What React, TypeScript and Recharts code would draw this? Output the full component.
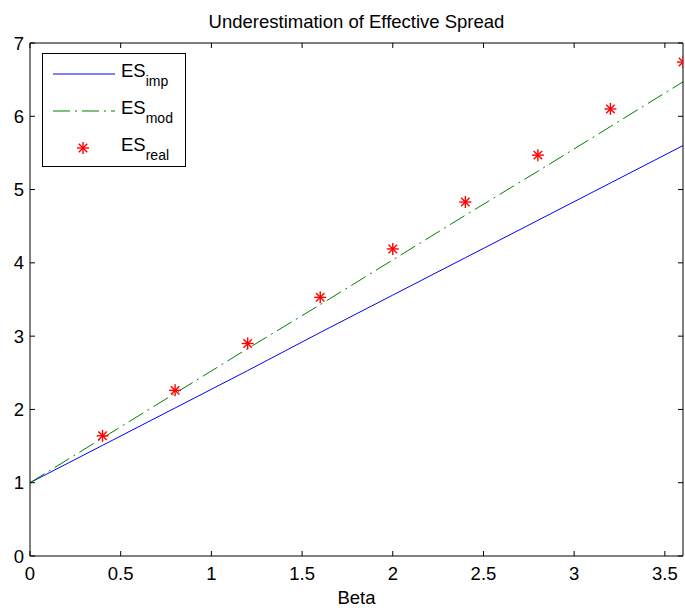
import React from 'react';
import { ComposedChart, Line, Scatter, XAxis, YAxis, Legend, Label } from 'recharts';

const betas = [0, 0.4, 0.8, 1.2, 1.6, 2.0, 2.4, 2.8, 3.2, 3.6];
const esImp = [1.0, 1.51, 2.02, 2.53, 3.05, 3.56, 4.07, 4.58, 5.09, 5.6];
const esMod = [1.0, 1.61, 2.22, 2.83, 3.43, 4.04, 4.65, 5.25, 5.86, 6.47];
const esReal: (number | null)[] = [null, 1.64, 2.26, 2.9, 3.53, 4.19, 4.83, 5.47, 6.1, 6.74];

const xTicks = [0, 0.5, 1, 1.5, 2, 2.5, 3, 3.5];
const yTicks = [0, 1, 2, 3, 4, 5, 6, 7];

const data = betas.map((b, i) => ({ beta: b, imp: esImp[i], mod: esMod[i], real: esReal[i] }));

const FONT = "'Liberation Sans', Arial, sans-serif";
const FS = 18.5;
const TICK = 5;

const BottomTick = (props: any) => {
  const { x, y, payload } = props;
  return (
    <g>
      <line x1={x} y1={y} x2={x} y2={y - TICK} stroke="#000" />
      <text x={x} y={y + 24} textAnchor="middle" fontSize={FS} fill="#000" fontFamily={FONT}>
        {String(payload.value)}
      </text>
    </g>
  );
};
const TopTick = (props: any) => {
  const { x, y } = props;
  return <line x1={x} y1={y} x2={x} y2={y + TICK} stroke="#000" />;
};
const LeftTick = (props: any) => {
  const { x, y, payload } = props;
  return (
    <g>
      <line x1={x} y1={y} x2={x + TICK} y2={y} stroke="#000" />
      <text x={x - 6} y={y + 6.6} textAnchor="end" fontSize={FS} fill="#000" fontFamily={FONT}>
        {String(payload.value)}
      </text>
    </g>
  );
};
const RightTick = (props: any) => {
  const { x, y } = props;
  return <line x1={x} y1={y} x2={x - TICK} y2={y} stroke="#000" />;
};

const Star = (props: any) => {
  const { cx, cy, payload } = props;
  if (payload == null || payload.real == null || !isFinite(cx) || !isFinite(cy)) return null;
  const r = 6;
  const d = r * 0.707;
  return (
    <g stroke="#ff0000" strokeWidth={1.4}>
      <line x1={cx - r} y1={cy} x2={cx + r} y2={cy} />
      <line x1={cx} y1={cy - r} x2={cx} y2={cy + r} />
      <line x1={cx - d} y1={cy - d} x2={cx + d} y2={cy + d} />
      <line x1={cx - d} y1={cy + d} x2={cx + d} y2={cy - d} />
    </g>
  );
};

const legendItems = [
  { key: 'imp', sub: 'imp', kind: 'line' },
  { key: 'mod', sub: 'mod', kind: 'dash' },
  { key: 'real', sub: 'real', kind: 'star' },
];

const LegendBox = () => (
  <svg width={145} height={115} style={{ display: 'block' }}>
    <rect x={0.5} y={0.5} width={143} height={113} fill="#fff" stroke="#000" />
    {legendItems.map((it, i) => {
      const cy = 21 + i * 37;
      return (
        <g key={it.key}>
          {it.kind === 'line' && <line x1={11} y1={cy} x2={73} y2={cy} stroke="#0000ff" strokeWidth={1.2} />}
          {it.kind === 'dash' && (
            <line x1={11} y1={cy} x2={73} y2={cy} stroke="#008000" strokeWidth={1.2} strokeDasharray="17 5 2 5" />
          )}
          {it.kind === 'star' && <Star cx={41} cy={cy} payload={{ real: 1 }} />}
          <text x={79} y={cy + 3} fontSize={FS} fontFamily={FONT} fill="#000">
            ES
            <tspan fontSize={14} dy={9}>{it.sub}</tspan>
          </text>
        </g>
      );
    })}
  </svg>
);

export default function App() {
  return (
    <div style={{ position: 'absolute', left: 0, top: 0, width: 685, height: 608, background: '#fff' }}>
      <ComposedChart
        width={685}
        height={608}
        data={data}
        margin={{ top: 42, right: 1, bottom: 0, left: 0 }}
        style={{ fontFamily: FONT }}
      >
        <XAxis
          dataKey="beta"
          type="number"
          domain={[0, 3.6]}
          ticks={xTicks}
          allowDataOverflow
          height={52}
          tickSize={0}
          tickMargin={0}
          tick={<BottomTick />}
          tickLine={false}
          axisLine={{ stroke: '#000' }}
          interval={0}
        >
          <Label value="Beta" position="insideBottom" offset={4} fontSize={FS} fill="#000" fontFamily={FONT} />
        </XAxis>
        <XAxis
          xAxisId="top"
          dataKey="beta"
          orientation="top"
          type="number"
          domain={[0, 3.6]}
          ticks={xTicks}
          allowDataOverflow
          height={1}
          tickSize={0}
          tickMargin={0}
          tick={<TopTick />}
          tickLine={false}
          axisLine={{ stroke: '#000' }}
          interval={0}
        >
          <Label
            value="Underestimation of Effective Spread"
            position="top"
            offset={14}
            fontSize={FS}
            fill="#000"
            fontFamily={FONT}
          />
        </XAxis>
        <YAxis
          type="number"
          domain={[0, 7]}
          ticks={yTicks}
          allowDataOverflow
          width={30}
          tickSize={0}
          tickMargin={0}
          tick={<LeftTick />}
          tickLine={false}
          axisLine={{ stroke: '#000' }}
          interval={0}
        />
        <YAxis
          yAxisId="right"
          orientation="right"
          type="number"
          domain={[0, 7]}
          ticks={yTicks}
          allowDataOverflow
          width={1}
          tickSize={0}
          tickMargin={0}
          tick={<RightTick />}
          tickLine={false}
          axisLine={{ stroke: '#000' }}
          interval={0}
        />
        <Legend
          layout="vertical"
          align="center"
          verticalAlign="middle"
          content={<LegendBox />}
          wrapperStyle={{ position: 'absolute', left: 42, top: 53, width: 145, height: 115 }}
        />
        <Line
          xAxisId="top"
          yAxisId="right"
          dataKey="imp"
          type="linear"
          stroke="none"
          dot={false}
          activeDot={false}
          legendType="none"
          isAnimationActive={false}
        />
        <Line
          dataKey="imp"
          type="linear"
          stroke="#0000ff"
          strokeWidth={1}
          dot={false}
          activeDot={false}
          isAnimationActive={false}
        />
        <Line
          dataKey="mod"
          type="linear"
          stroke="#008000"
          strokeWidth={1}
          strokeDasharray="17 5 2 5"
          dot={false}
          activeDot={false}
          isAnimationActive={false}
        />
        <Scatter dataKey="real" shape={<Star />} isAnimationActive={false} />
      </ComposedChart>
    </div>
  );
}
